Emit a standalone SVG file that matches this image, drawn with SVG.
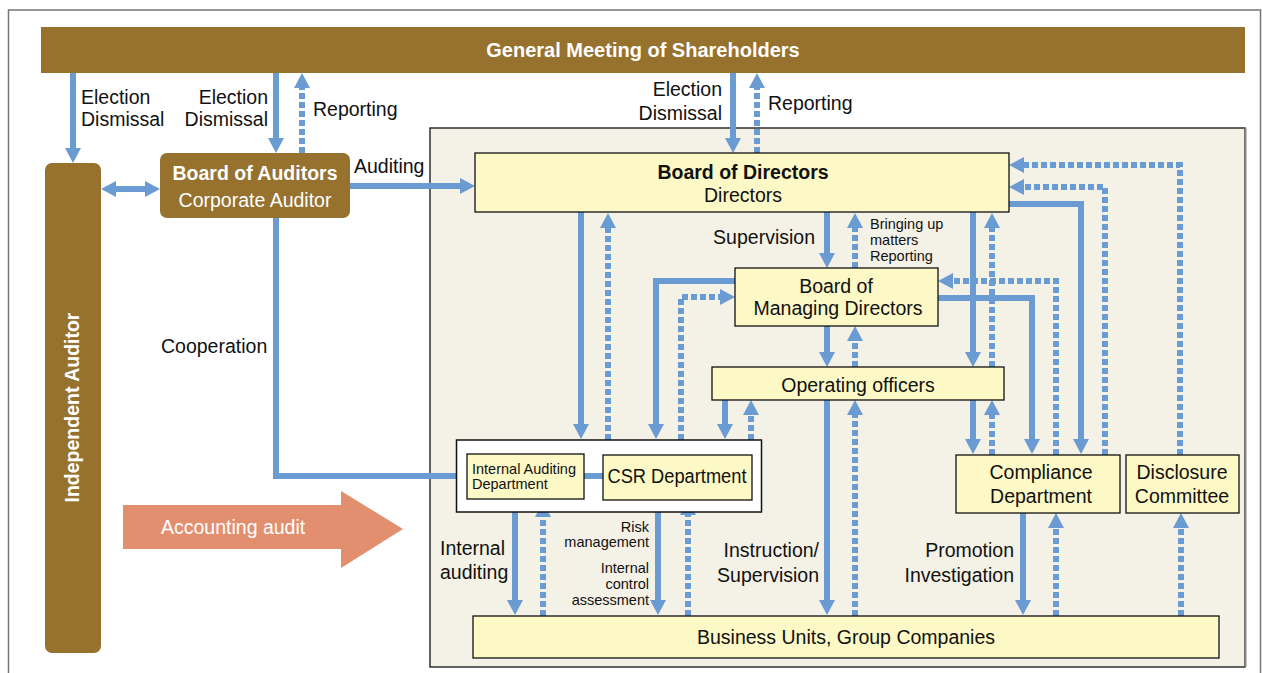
<svg xmlns="http://www.w3.org/2000/svg" width="1262" height="673" viewBox="0 0 1262 673">
<defs>
<style>
text{font-family:"Liberation Sans",Arial,sans-serif;font-size:19.5px;fill:#111}
.b{font-weight:bold}
.w{fill:#fff}
.s{font-size:14.5px}
.m{text-anchor:middle}
.e{text-anchor:end}
.box{fill:#fdf9c6;stroke:#111;stroke-width:1.3}
.brown{fill:#96722e}
.ln{fill:none;stroke:#6b9bd3;stroke-width:6}
.d{stroke-dasharray:6 3}
.a{marker-end:url(#ah)}
</style>
<marker id="ah" viewBox="0 0 15 16" markerWidth="15" markerHeight="16" refX="2" refY="8" orient="auto-start-reverse" markerUnits="userSpaceOnUse">
<path d="M0,0 L15,8 L0,16 z" fill="#6b9bd3"/>
</marker>
</defs>
<rect x="0" y="0" width="1262" height="673" fill="#fff"/>
<rect x="8.5" y="10" width="1252" height="700" fill="none" stroke="#777" stroke-width="1.5"/>
<rect x="430" y="128" width="815" height="539" fill="#f4f1e6" stroke="#111" stroke-width="1.3"/>
<line x1="1245.5" y1="128" x2="1245.5" y2="667" stroke="#888" stroke-width="2"/>

<g id="shareholders">
<rect x="41" y="27" width="1204" height="46" class="brown"/>
<text x="643" y="57" class="b w m" style="font-size:20px">General Meeting of Shareholders</text>
</g>

<g id="connectors">
<path class="ln a" d="M73,73 V150"/>
<path class="ln a" d="M276,73 V140"/>
<path class="ln d a" d="M302,153 V86"/>
<path class="ln a" style="marker-start:url(#ah)" d="M114,189 H147"/>
<path class="ln a" d="M350,186 H462"/>
<path class="ln a" d="M733,73 V140"/>
<path class="ln d a" d="M757,153 V86"/>
<path class="ln a" d="M581,212 V426"/>
<path class="ln d a" d="M608,440 V226"/>
<path class="ln a" d="M827,212 V255"/>
<path class="ln d a" d="M855,268 V226"/>
<path class="ln a" d="M735,281 H656 V426"/>
<path class="ln d a" d="M681,440 V297 H722"/>
<path class="ln a" d="M827,326 V354"/>
<path class="ln d a" d="M855,367 V339"/>
<path class="ln a" d="M725,400 V426"/>
<path class="ln d a" d="M751,440 V413"/>
<path class="ln a" d="M827,400 V602"/>
<path class="ln d a" d="M855,616 V413"/>
<path class="ln a" d="M973,400 V441"/>
<path class="ln d a" d="M992,455 V413"/>
<path class="ln a" d="M973,212 V354"/>
<path class="ln d a" d="M992,367 V226"/>
<path class="ln d a" d="M1056,455 V281 H951"/>
<path class="ln a" d="M938,298 H1032 V441"/>
<path class="ln a" d="M1009,204 H1081 V441"/>
<path class="ln d a" d="M1105,455 V187 H1022"/>
<path class="ln d a" d="M1180,455 V165 H1022"/>
<path class="ln a" d="M515,499 V602"/>
<path class="ln d a" d="M543,616 V515"/>
<path class="ln a" d="M658,500 V602"/>
<path class="ln d a" d="M688,616 V513"/>
<path class="ln a" d="M1023,513 V602"/>
<path class="ln d a" d="M1056,616 V526"/>
<path class="ln d a" d="M1181,616 V526"/>
<path class="ln" d="M276,218 V476 H458"/>
</g>

<g id="labels">
<text x="81" y="104">Election</text>
<text x="81" y="126">Dismissal</text>
<text x="268" y="104" class="e">Election</text>
<text x="268" y="126" class="e">Dismissal</text>
<text x="313" y="116">Reporting</text>
<text x="722" y="96" class="e">Election</text>
<text x="722" y="120" class="e">Dismissal</text>
<text x="768" y="110">Reporting</text>
<text x="354" y="173">Auditing</text>
<text x="815" y="244" class="e">Supervision</text>
<text x="870" y="229" class="s">Bringing up</text>
<text x="870" y="245" class="s">matters</text>
<text x="870" y="261" class="s">Reporting</text>
<text x="161" y="353">Cooperation</text>
<text x="440" y="555">Internal</text>
<text x="440" y="579">auditing</text>
<text x="649" y="532" class="s e">Risk</text>
<text x="649" y="547" class="s e">management</text>
<text x="649" y="573" class="s e">Internal</text>
<text x="649" y="589" class="s e">control</text>
<text x="649" y="605" class="s e">assessment</text>
<text x="819" y="557" class="e">Instruction/</text>
<text x="819" y="582" class="e">Supervision</text>
<text x="1014" y="557" class="e">Promotion</text>
<text x="1014" y="582" class="e">Investigation</text>
</g>

<g id="independent-auditor">
<rect x="45" y="163" width="56" height="490" rx="7" class="brown"/>
<text transform="translate(79,407.5) rotate(-90)" class="b w m">Independent Auditor</text>
</g>

<g id="board-of-auditors">
<rect x="160" y="153" width="190" height="65" rx="7" class="brown"/>
<text x="255" y="180" class="b w m">Board of Auditors</text>
<text x="255" y="207" class="w m">Corporate Auditor</text>
</g>

<g id="accounting-audit">
<path d="M123,505 H341 V491 L403,529 L341,568 V549 H123 z" fill="#e28f6f"/>
<text x="161" y="534" class="w">Accounting audit</text>
</g>

<g id="board-of-directors">
<rect x="475" y="153" width="534" height="59" class="box"/>
<text x="743" y="179" class="b m">Board of Directors</text>
<text x="743" y="202" class="m">Directors</text>
</g>

<g id="board-of-managing-directors">
<rect x="735" y="268" width="203" height="58" class="box"/>
<text x="836" y="293" class="m">Board of</text>
<text x="838" y="315" class="m">Managing Directors</text>
</g>

<g id="operating-officers">
<rect x="712" y="367" width="292" height="33" class="box"/>
<text x="858" y="392" class="m">Operating officers</text>
</g>

<g id="internal-group">
<rect x="456.5" y="440" width="305" height="72" fill="#fff" stroke="#111" stroke-width="1.5"/>
<path class="ln" d="M584,476 H603"/>
</g>

<g id="internal-auditing-department">
<rect x="467" y="454" width="117" height="45" class="box"/>
<text x="472" y="474" class="s">Internal Auditing</text>
<text x="472" y="489" class="s">Department</text>
</g>

<g id="csr-department">
<rect x="603" y="455" width="149" height="45" class="box"/>
<text x="677" y="483" class="m" style="font-size:20px" textLength="139" lengthAdjust="spacingAndGlyphs">CSR Department</text>
</g>

<g id="compliance-department">
<rect x="956" y="455" width="164" height="58" class="box"/>
<text x="1041" y="479" class="m">Compliance</text>
<text x="1041" y="503" class="m">Department</text>
</g>

<g id="disclosure-committee">
<rect x="1126" y="455" width="113" height="58" class="box"/>
<text x="1182" y="479" class="m">Disclosure</text>
<text x="1182" y="503" class="m">Committee</text>
</g>

<g id="business-units">
<rect x="473" y="616" width="746" height="42" class="box"/>
<text x="846" y="644" class="m">Business Units, Group Companies</text>
</g>
</svg>
